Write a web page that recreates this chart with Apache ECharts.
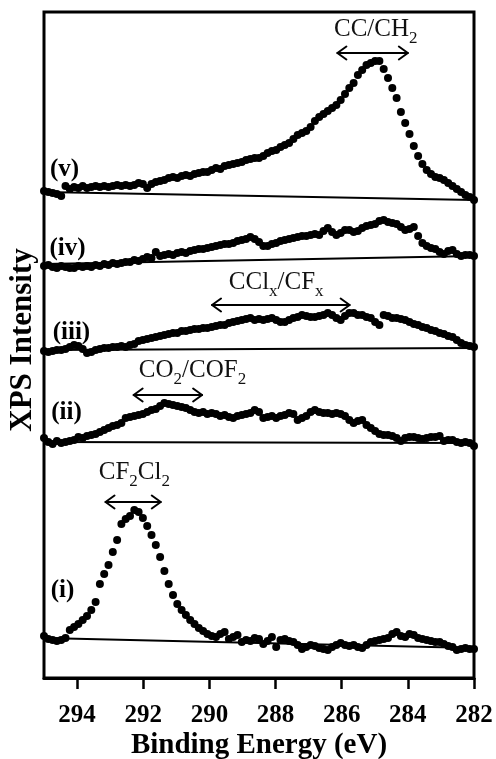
<!DOCTYPE html>
<html>
<head>
<meta charset="utf-8">
<script src="https://cdn.jsdelivr.net/npm/echarts@6/dist/echarts.min.js"></script>
<style>
  html, body { margin: 0; padding: 0; background: #fff; }
  #chart { width: 496px; height: 759px; }
</style>
</head>
<body>
<div id="chart"></div>
<script>
// Binding-energy sampling grid (eV), high to low
const energyStart = 295;
const energyStep = 0.13;
const pointCount = 101;
const energy = Array.from({ length: pointCount }, (_, i) => +(energyStart - energyStep * i).toFixed(2));

// C 1s spectra, stacked with vertical offsets (arbitrary intensity units)
const spectrumI = [
  42, 39, 38, 37, 38, 40, 48, 51, 54, 58,
  62, 68, 76, 94, 104, 113, 126, 138, 154, 159,
  162, 168, 166, 160, 152, 143, 133, 121, 107, 94,
  83, 74, 68, 63, 58, 54, 50, 47, 44, 42,
  41, 44, 46, 39, 41, 43, 36, 38, 37, 40,
  39, 34, 37, 41, 31, 38, 39, 37, 36, 33,
  29, 31, 33, 32, 30, 29, 28, 31, 33, 35,
  33, 32, 33, 31, 30, 33, 36, 37, 38, 39,
  40, 44, 46, 42, 41, 44, 43, 40, 39, 38,
  37, 36, 36, 34, 32, 31, 28, 29, 30, 29,
  29
];
const spectrumII = [
  240, 236, 234, 237, 235, 236, 237, 238, 241, 240,
  242, 243, 244, 246, 248, 250, 252, 253, 255, 260,
  261, 262, 263, 264, 266, 268, 269, 272, 275, 274,
  273, 272, 271, 270, 268, 266, 265, 266, 264, 265,
  264, 262, 263, 261, 260, 262, 263, 264, 265, 268,
  266, 260, 261, 262, 260, 262, 263, 265, 264, 258,
  260, 262, 266, 268, 266, 265, 265, 264, 265, 264,
  262, 258, 255, 257, 258, 253, 250, 247, 244, 243,
  243, 242, 240, 237, 240, 241, 241, 240, 239, 240,
  241, 241, 242, 237, 238, 238, 236, 235, 236, 235,
  232
];
const spectrumIII = [
  327, 326, 327, 328, 328, 329, 331, 333, 332, 329,
  325, 326, 328, 329, 330, 330, 331, 331, 332, 331,
  333, 334, 337, 338, 339, 340, 341, 342, 343, 344,
  345, 345, 347, 347, 348, 349, 349, 350, 350, 351,
  352, 353, 353, 355, 356, 357, 358, 359, 360, 358,
  359, 358, 359, 360, 358, 356, 356, 358, 360, 361,
  363, 362, 361, 361, 362, 363, 365, 363, 360, 358,
  362, 365, 365, 363, 363, 361, 360, 356, 353, 363,
  362, 360, 360, 359, 358, 356, 354, 353, 351, 350,
  348, 347, 345, 344, 342, 341, 338, 335, 333, 332,
  331
];
const spectrumIV = [
  412, 413, 411, 410, 412, 411, 410, 410, 412, 411,
  412, 411, 413, 412, 414, 413, 415, 414, 415, 416,
  416, 418, 417, 419, 421, 420, 426, 422, 423, 424,
  423, 425, 426, 425, 427, 428, 429, 429, 430, 431,
  432, 433, 434, 434, 435, 437, 438, 439, 441, 439,
  436, 432, 432, 434, 435, 437, 438, 439, 440, 441,
  442, 442, 443, 444, 443, 447, 450, 446, 443, 445,
  448, 448, 446, 447, 450, 452, 453, 454, 457, 458,
  456, 455, 454, 451, 448, 449, 451, 442, 435, 432,
  430, 429, 426, 424, 427, 428, 424, 422, 423, 423,
  422
];
const spectrumV = [
  487, 486, 485, 484, 482, 492, 489, 491, 490, 492,
  490, 491, 492, 491, 492, 491, 492, 493, 492, 493,
  492, 493, 495, 494, 490, 494, 496, 497, 498, 500,
  501, 500, 502, 503, 502, 504, 505, 506, 506, 508,
  510, 509, 512, 513, 514, 515, 516, 518, 519, 520,
  520, 522, 525, 527, 528, 531, 533, 535, 539, 543,
  545, 547, 551, 557, 561, 564, 567, 570, 573, 578,
  584, 590, 595, 603, 608, 613, 615, 617, 617, 609,
  600, 590, 580, 566, 555, 544, 532, 522, 514, 508,
  504, 501, 500, 498, 495, 492, 489, 486, 483, 481,
  478
];

// Linear background under each spectrum: values at 295 eV and 282 eV
const baselineEnergy = [295, 282];
const baselineI = [40, 30];
const baselineII = [236, 235];
const baselineIII = [328, 330];
const baselineIV = [414, 422];
const baselineV = [486, 478];

// Spectrum tags
const traceNames = ['(i)', '(ii)', '(iii)', '(iv)', '(v)'];
const traceNameEnergy = [294.44, 294.32, 294.17, 294.29, 294.38];
const traceNameLevel = [87, 265, 345, 429, 508];

// Peak assignments: double arrow spanning an energy range, with a label above
const peakLabels = ['CF{s|2}Cl{s|2}', 'CO{s|2}/COF{s|2}', 'CCl{s|x}/CF{s|x}', 'CC/CH{s|2}'];
const peakFrom = [293.14, 292.29, 289.92, 286.13];
const peakTo = [291.47, 290.22, 285.76, 284.0];
const peakLevel = [176, 283, 373, 625];
const peakTextEnergy = [292.27, 290.51, 287.98, 284.97];
const peakTextLevel = [206, 308, 396, 649];

// Axis
const xTicks = [294, 292, 290, 288, 286, 284, 282];
const xMin = 282, xMax = 295, yMin = 0, yMax = 666;

const ink = '#000';
const serif = '"Liberation Serif", "Times New Roman", serif';

function pairs(ys) { return energy.map((e, k) => [e, ys[k]]); }
function basePairs(ys) { return baselineEnergy.map((e, k) => [e, ys[k]]); }

const spectra = [spectrumI, spectrumII, spectrumIII, spectrumIV, spectrumV];
const baselines = [baselineI, baselineII, baselineIII, baselineIV, baselineV];

const series = [];
baselines.forEach((b, k) => {
  series.push({
    type: 'line', name: 'bg ' + traceNames[k], data: basePairs(b),
    showSymbol: false, silent: true,
    lineStyle: { color: ink, width: 2 }, z: 2
  });
});
spectra.forEach((s, k) => {
  series.push({
    type: 'scatter', name: traceNames[k], data: pairs(s),
    symbol: 'circle', symbolSize: 8,
    itemStyle: { color: ink, opacity: 1 }, z: 3
  });
});

series.push({
  type: 'custom', name: 'tags', silent: true, z: 5,
  data: traceNames.map((_, i) => [traceNameEnergy[i], traceNameLevel[i]]),
  renderItem: function (params, api) {
    const i = params.dataIndex;
    const p = api.coord([traceNameEnergy[i], traceNameLevel[i]]);
    return {
      type: 'text',
      style: {
        text: traceNames[i], x: p[0], y: p[1],
        align: 'center', verticalAlign: 'middle',
        font: 'bold 25px ' + serif, fill: ink
      }
    };
  }
});

series.push({
  type: 'custom', name: 'assignments', silent: true, z: 5,
  data: peakLabels.map((_, i) => [peakFrom[i], peakLevel[i]]),
  renderItem: function (params, api) {
    const i = params.dataIndex;
    const a = api.coord([peakFrom[i], peakLevel[i]]);
    const b = api.coord([peakTo[i], peakLevel[i]]);
    const t = api.coord([peakTextEnergy[i], peakTextLevel[i]]);
    const L = Math.min(a[0], b[0]), R = Math.max(a[0], b[0]), y = a[1];
    const head = 9, half = 6.5;
    const stroke = { stroke: ink, lineWidth: 2, fill: null, lineCap: 'round', lineJoin: 'round' };
    return {
      type: 'group',
      children: [
        { type: 'line', shape: { x1: L, y1: y, x2: R, y2: y }, style: stroke },
        { type: 'polyline', shape: { points: [[L + head, y - half], [L, y], [L + head, y + half]] }, style: stroke },
        { type: 'polyline', shape: { points: [[R - head, y - half], [R, y], [R - head, y + half]] }, style: stroke },
        {
          type: 'text',
          style: {
            text: peakLabels[i], x: t[0], y: t[1],
            align: 'center', verticalAlign: 'middle',
            font: '25px ' + serif, fill: '#111',
            rich: { s: { fontSize: 17, fontFamily: serif, fill: '#111', padding: [20, 0, 0, 0] } }
          }
        }
      ]
    };
  }
});

const chart = echarts.init(document.getElementById('chart'), null, { renderer: 'canvas' });
chart.setOption({
  animation: false,
  backgroundColor: '#fff',
  grid: {
    left: 44, right: 22, top: 12, bottom: 81,
    outerBoundsMode: 'none', containLabel: false,
    show: true, borderColor: '#000', borderWidth: 3, backgroundColor: 'transparent'
  },
  xAxis: {
    type: 'value', min: xMin, max: xMax, inverse: true,
    axisLine: { show: true, lineStyle: { color: '#000', width: 3 } },
    axisTick: { show: true, customValues: xTicks, length: 11, lineStyle: { color: '#000', width: 2.5 } },
    axisLabel: {
      customValues: xTicks, margin: 25,
      fontFamily: serif, fontWeight: 'bold', fontSize: 25, color: '#000'
    },
    splitLine: { show: false },
    name: 'Binding Energy (eV)', nameLocation: 'middle', nameGap: 53, nameMoveOverlap: false,
    nameTextStyle: { fontFamily: serif, fontWeight: 'bold', fontSize: 29, color: '#000' }
  },
  yAxis: {
    type: 'value', min: yMin, max: yMax,
    axisLine: { show: false }, axisTick: { show: false },
    axisLabel: { show: false }, splitLine: { show: false }
  },
  graphic: [{
    type: 'text', x: 23, y: 340, rotation: Math.PI / 2,
    style: {
      text: 'XPS Intensity', align: 'center', verticalAlign: 'middle',
      font: 'bold 31px ' + serif, fill: '#000'
    }
  }],
  series: series
});
</script>
</body>
</html>
